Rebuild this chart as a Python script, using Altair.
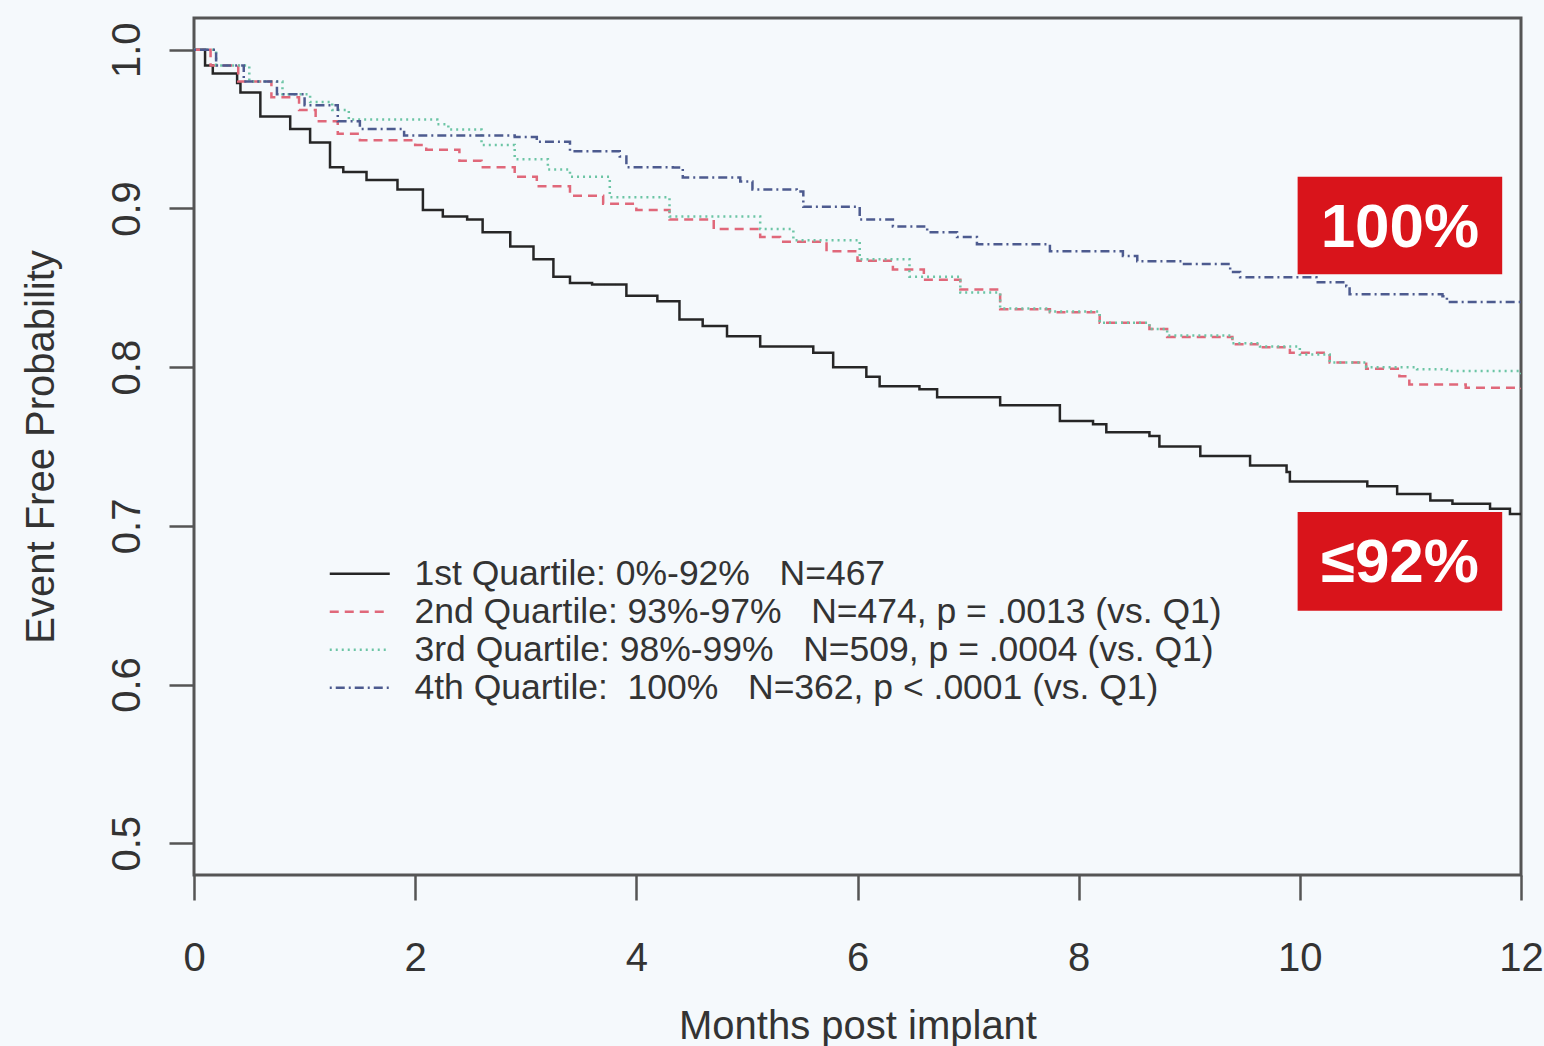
import altair as alt
import pandas as pd

# ---------------- data ----------------
NB = "\u00a0"
labels = [
    "1st Quartile: 0%-92%" + NB * 3 + "N=467",
    "2nd Quartile: 93%-97%" + NB * 3 + "N=474, p = .0013 (vs. Q1)",
    "3rd Quartile: 98%-99%" + NB * 3 + "N=509, p = .0004 (vs. Q1)",
    "4th Quartile:" + NB * 2 + "100%" + NB * 3 + "N=362, p < .0001 (vs. Q1)",
]
colors = ["#262626", "#e0687a", "#6cc5a5", "#4d5b8f"]
dashes = [[1, 0], [9, 6], [2, 4], [2, 4, 9, 4]]

q1_t = [0, 0.1, 0.17, 0.39, 0.42, 0.6, 0.87, 1.05, 1.23, 1.35, 1.56, 1.84, 2.07, 2.25,
        2.47, 2.61, 2.86, 3.07, 3.25, 3.4, 3.6, 3.91, 4.19, 4.39, 4.6, 4.82, 5.12, 5.6,
        5.78, 6.08, 6.2, 6.56, 6.72, 7.29, 7.83, 8.13, 8.25, 8.64, 8.73, 9.1, 9.55, 9.88,
        9.91, 10.61, 10.88, 11.18, 11.38, 11.72, 11.9, 12.0]
q1_s = [1.0, 0.99, 0.985, 0.979, 0.973, 0.958, 0.95, 0.9415, 0.926, 0.923, 0.918, 0.912,
        0.899, 0.895, 0.893, 0.885, 0.876, 0.868, 0.857, 0.853, 0.852, 0.845, 0.8415, 0.83,
        0.826, 0.8195, 0.813, 0.809, 0.8, 0.794, 0.788, 0.786, 0.781, 0.776, 0.766, 0.764,
        0.759, 0.7566, 0.75, 0.744, 0.738, 0.734, 0.728, 0.725, 0.72, 0.716, 0.714, 0.7107,
        0.7075, 0.7075]

q2_t = [0, 0.15, 0.4, 0.7, 0.95, 1.1, 1.3, 1.5, 2.0, 2.1, 2.4, 2.6, 2.9, 3.1, 3.4, 3.7,
        4.0, 4.3, 4.7, 5.12, 5.3, 5.72, 6.0, 6.32, 6.6, 6.93, 7.29, 7.74, 8.19, 8.64, 8.8,
        9.39, 9.64, 9.91, 10.27, 10.6, 10.9, 10.99, 11.5, 12.0]
q2_s = [1.0, 0.99, 0.98, 0.97, 0.962, 0.955, 0.947, 0.943, 0.94, 0.937, 0.93, 0.926, 0.92,
        0.914, 0.908, 0.903, 0.899, 0.893, 0.887, 0.882, 0.879, 0.873, 0.867, 0.8616, 0.855,
        0.849, 0.8365, 0.8346, 0.828, 0.824, 0.819, 0.8145, 0.8126, 0.809, 0.803, 0.799,
        0.7943, 0.789, 0.787, 0.786]

q3_t = [0, 0.2, 0.5, 0.8, 1.05, 1.25, 1.4, 2.2, 2.3, 2.6, 2.9, 3.2, 3.4, 3.76, 4.3, 5.12,
        5.42, 6.02, 6.47, 6.93, 7.29, 7.74, 8.19, 8.64, 8.8, 9.39, 9.64, 10.0, 10.27, 10.6,
        11.06, 11.33, 12.0]
q3_s = [1.0, 0.99, 0.98, 0.972, 0.967, 0.962, 0.956, 0.953, 0.9497, 0.94, 0.931, 0.9245,
        0.92, 0.907, 0.895, 0.887, 0.88, 0.868, 0.857, 0.847, 0.837, 0.835, 0.828, 0.824,
        0.82, 0.815, 0.813, 0.808, 0.803, 0.8, 0.7987, 0.7975, 0.7956]

q4_t = [0, 0.2, 0.45, 0.75, 1.0, 1.3, 1.5, 1.9, 2.9, 3.1, 3.4, 3.85, 3.91, 4.33, 4.42, 4.94,
        5.05, 5.45, 5.51, 6.02, 6.32, 6.63, 6.9, 7.08, 7.74, 8.4, 8.53, 8.94, 9.37, 9.46,
        10.15, 10.42, 10.45, 11.29, 11.33, 12.0]
q4_s = [1.0, 0.99, 0.98, 0.972, 0.965, 0.955, 0.95, 0.946, 0.945, 0.942, 0.936, 0.9327,
        0.926, 0.9258, 0.9195, 0.917, 0.912, 0.9107, 0.901, 0.893, 0.8887, 0.885, 0.882,
        0.8774, 0.873, 0.87, 0.8667, 0.865, 0.86, 0.8566, 0.8535, 0.851, 0.846, 0.8447,
        0.841, 0.8396]

x_ticks = [0, 2, 4, 6, 8, 10, 12]
y_ticks = [0.5, 0.6, 0.7, 0.8, 0.9, 1.0]

box_text = ["100%", "≤92%"]
box_x1 = [9.98, 9.98]
box_x2 = [11.83, 11.83]
box_y1 = [0.920, 0.7088]
box_y2 = [0.8585, 0.6465]

# ---------------- tables ----------------
rows = []
for lab, ts, ss in zip(labels, [q1_t, q2_t, q3_t, q4_t], [q1_s, q2_s, q3_s, q4_s]):
    for t, s in zip(ts, ss):
        rows.append({"series": lab, "t": t, "s": s})
df = pd.DataFrame(rows)

boxes = pd.DataFrame({
    "label": box_text, "x1": box_x1, "x2": box_x2, "y1": box_y1, "y2": box_y2,
})
boxes["tx"] = (boxes["x1"] + boxes["x2"]) / 2
boxes["ty"] = (boxes["y1"] + boxes["y2"]) / 2

FONT = "Liberation Sans"
AX = "#555555"

xscale = alt.Scale(domain=[0, 12], nice=False, zero=False)
yscale = alt.Scale(domain=[0.48, 1.02], nice=False, zero=False)

xaxis = alt.Axis(values=x_ticks, title="Months post implant", domain=False, grid=False,
                 tickSize=25, tickWidth=2.5, tickColor=AX, labelFontSize=40,
                 labelFont=FONT, labelColor="#333333", labelPadding=38,
                 titleFontSize=40, titleFont=FONT, titleFontWeight="normal",
                 titleColor="#333333", titlePadding=28, labelFlush=False)
yaxis = alt.Axis(values=y_ticks, format=".1f", title="Event Free Probability", domain=False,
                 grid=False, tickSize=25, tickWidth=2.5, tickColor=AX, labelFontSize=40,
                 labelFont=FONT, labelColor="#333333", labelAngle=270, labelAlign="center",
                 labelBaseline="alphabetic", labelPadding=30, titleFontSize=40,
                 titleFont=FONT, titleFontWeight="normal", titleColor="#333333",
                 titlePadding=46, labelFlush=False)

# symbol: a horizontal stroke path, three times wider than the nominal symbol box
leg = alt.Legend(title=None, orient="none", legendX=148, legendY=538,
                 symbolType="M-3,0H3", symbolSize=400, symbolStrokeWidth=2.5,
                 labelFontSize=35.5, labelFont=FONT, labelColor="#333333", labelOffset=37,
                 rowPadding=1, padding=0, labelLimit=2000)

lines = alt.Chart(df).mark_line(interpolate="step-after", strokeWidth=2.5, clip=True).encode(
    x=alt.X("t:Q", scale=xscale, axis=xaxis),
    y=alt.Y("s:Q", scale=yscale, axis=yaxis),
    color=alt.Color("series:N", scale=alt.Scale(domain=labels, range=colors), legend=leg),
    strokeDash=alt.StrokeDash("series:N", scale=alt.Scale(domain=labels, range=dashes),
                              legend=leg),
)

rects = alt.Chart(boxes).mark_rect(color="#d9141b").encode(
    x=alt.X("x1:Q", scale=xscale, axis=xaxis), x2="x2:Q",
    y=alt.Y("y1:Q", scale=yscale, axis=yaxis), y2="y2:Q",
)

texts = alt.Chart(boxes).mark_text(color="white", font=FONT, fontSize=62, fontWeight="bold",
                                   baseline="middle", align="center", dy=2).encode(
    x=alt.X("tx:Q", scale=xscale, axis=xaxis),
    y=alt.Y("ty:Q", scale=yscale, axis=yaxis),
    text="label:N",
)

chart = alt.layer(lines, rects, texts).properties(
    width=1327, height=857,
    autosize=alt.AutoSizeParams(type="none"),
    padding={"left": 194, "top": 18, "right": 23, "bottom": 171},
    background="#f5f9fc",
).configure_view(stroke=AX, strokeWidth=3, fill="#f5f9fc")

chart.save("out.html", embed_options={"renderer": "svg", "actions": False})
